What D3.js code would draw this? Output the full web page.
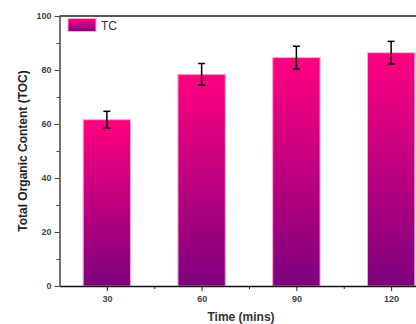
<!DOCTYPE html>
<html>
<head>
<meta charset="utf-8">
<script src="https://cdn.jsdelivr.net/npm/d3@7"></script>
<style>
  body { margin: 0; background: #fff; }
  svg { display: block; font-family: "Liberation Sans", Arial, sans-serif; }
  .tick text { font-size: 9px; font-weight: bold; fill: #444; }
</style>
</head>
<body>
<svg id="svg1"></svg>
<script>
  var times = [30, 60, 90, 120];
  var toc = [61.6, 78.4, 84.6, 86.4];
  var tocErr = [3.1, 4.0, 4.2, 4.2];
  var yTicks = [0, 20, 40, 60, 80, 100];
  var xTicks = [30, 60, 90, 120];
  var seriesName = "TC";

  var width = 416, height = 324;

  var svg = d3.select("#svg1")
      .attr("width", width)
      .attr("height", height);

  var x = d3.scaleLinear().domain([15, 135]).range([59.5, 438.5]);
  var y = d3.scaleLinear().domain([0, 100]).range([286, 16]);
  var barW = x(37.5) - x(22.5);

  var defs = svg.append("defs");
  var grad = defs.append("linearGradient")
      .attr("id", "barGrad")
      .attr("x1", 0).attr("y1", 0).attr("x2", 0).attr("y2", 1);
  grad.append("stop").attr("offset", "0%").attr("stop-color", "#ff0080");
  grad.append("stop").attr("offset", "100%").attr("stop-color", "#7d007d");

  // bars
  svg.selectAll(".bar")
      .data(times)
      .enter().append("rect")
      .attr("class", "bar")
      .attr("x", function(d) { return x(d) - barW / 2; })
      .attr("width", barW)
      .attr("y", function(d, i) { return y(toc[i]); })
      .attr("height", function(d, i) { return y(0) - y(toc[i]); })
      .attr("fill", "url(#barGrad)")
      .attr("stroke", "#ffa6d2")
      .attr("stroke-width", 1);

  // error bars
  var eb = svg.selectAll(".err")
      .data(times)
      .enter().append("g")
      .attr("class", "err")
      .attr("stroke", "#000")
      .attr("stroke-width", 1.5);
  eb.append("line")
      .attr("x1", function(d) { return x(d); })
      .attr("x2", function(d) { return x(d); })
      .attr("y1", function(d, i) { return y(toc[i] + tocErr[i]); })
      .attr("y2", function(d, i) { return y(toc[i] - tocErr[i]); });
  eb.append("line")
      .attr("x1", function(d) { return x(d) - 3.5; })
      .attr("x2", function(d) { return x(d) + 3.5; })
      .attr("y1", function(d, i) { return y(toc[i] + tocErr[i]); })
      .attr("y2", function(d, i) { return y(toc[i] + tocErr[i]); });
  eb.append("line")
      .attr("x1", function(d) { return x(d) - 3.5; })
      .attr("x2", function(d) { return x(d) + 3.5; })
      .attr("y1", function(d, i) { return y(toc[i] - tocErr[i]); })
      .attr("y2", function(d, i) { return y(toc[i] - tocErr[i]); });

  // minor ticks
  svg.append("g")
      .attr("transform", "translate(0,286)")
      .call(d3.axisBottom(x).tickValues([45, 75, 105]).tickSize(3).tickFormat(""))
      .call(function(g) { g.select(".domain").remove(); g.selectAll("line").attr("stroke", "#222"); });
  svg.append("g")
      .attr("transform", "translate(59.5,0)")
      .call(d3.axisLeft(y).tickValues([10, 30, 50, 70, 90]).tickSize(3).tickFormat(""))
      .call(function(g) { g.select(".domain").remove(); g.selectAll("line").attr("stroke", "#444"); });

  // x axis
  var xAxis = svg.append("g")
      .attr("transform", "translate(0,286)")
      .call(d3.axisBottom(x).tickValues(xTicks).tickSize(5).tickPadding(5).tickSizeOuter(0));
  xAxis.select(".domain").attr("stroke", "#111").attr("stroke-width", 1.5);
  xAxis.selectAll(".tick line").attr("stroke", "#222");

  // y axis
  var yAxis = svg.append("g")
      .attr("transform", "translate(59.5,0)")
      .call(d3.axisLeft(y).tickValues(yTicks).tickSize(5).tickPadding(3).tickSizeOuter(0));
  yAxis.select(".domain").attr("stroke", "#444").attr("stroke-width", 1.5);
  yAxis.selectAll(".tick line").attr("stroke", "#444");

  // top frame line
  svg.append("line")
      .attr("x1", x(15)).attr("x2", width)
      .attr("y1", y(100)).attr("y2", y(100))
      .attr("stroke", "#222").attr("stroke-width", 1.5);

  // axis titles
  svg.append("text")
      .attr("x", 241).attr("y", 321)
      .attr("text-anchor", "middle")
      .style("font-size", "12px").style("font-weight", "bold").style("fill", "#333")
      .text("Time (mins)");
  svg.append("text")
      .attr("transform", "translate(27,151) rotate(-90)")
      .attr("text-anchor", "middle")
      .style("font-size", "12px").style("font-weight", "bold").style("fill", "#222")
      .text("Total Organic Content (TOC)");

  // legend
  svg.append("rect")
      .attr("x", 68).attr("y", 18.5).attr("width", 28).attr("height", 13)
      .attr("fill", "url(#barGrad)").attr("stroke", "#ffa6d2");
  svg.append("text")
      .attr("x", 101).attr("y", 29.5)
      .style("font-size", "12px").style("fill", "#333")
      .text(seriesName);
</script>
</body>
</html>
